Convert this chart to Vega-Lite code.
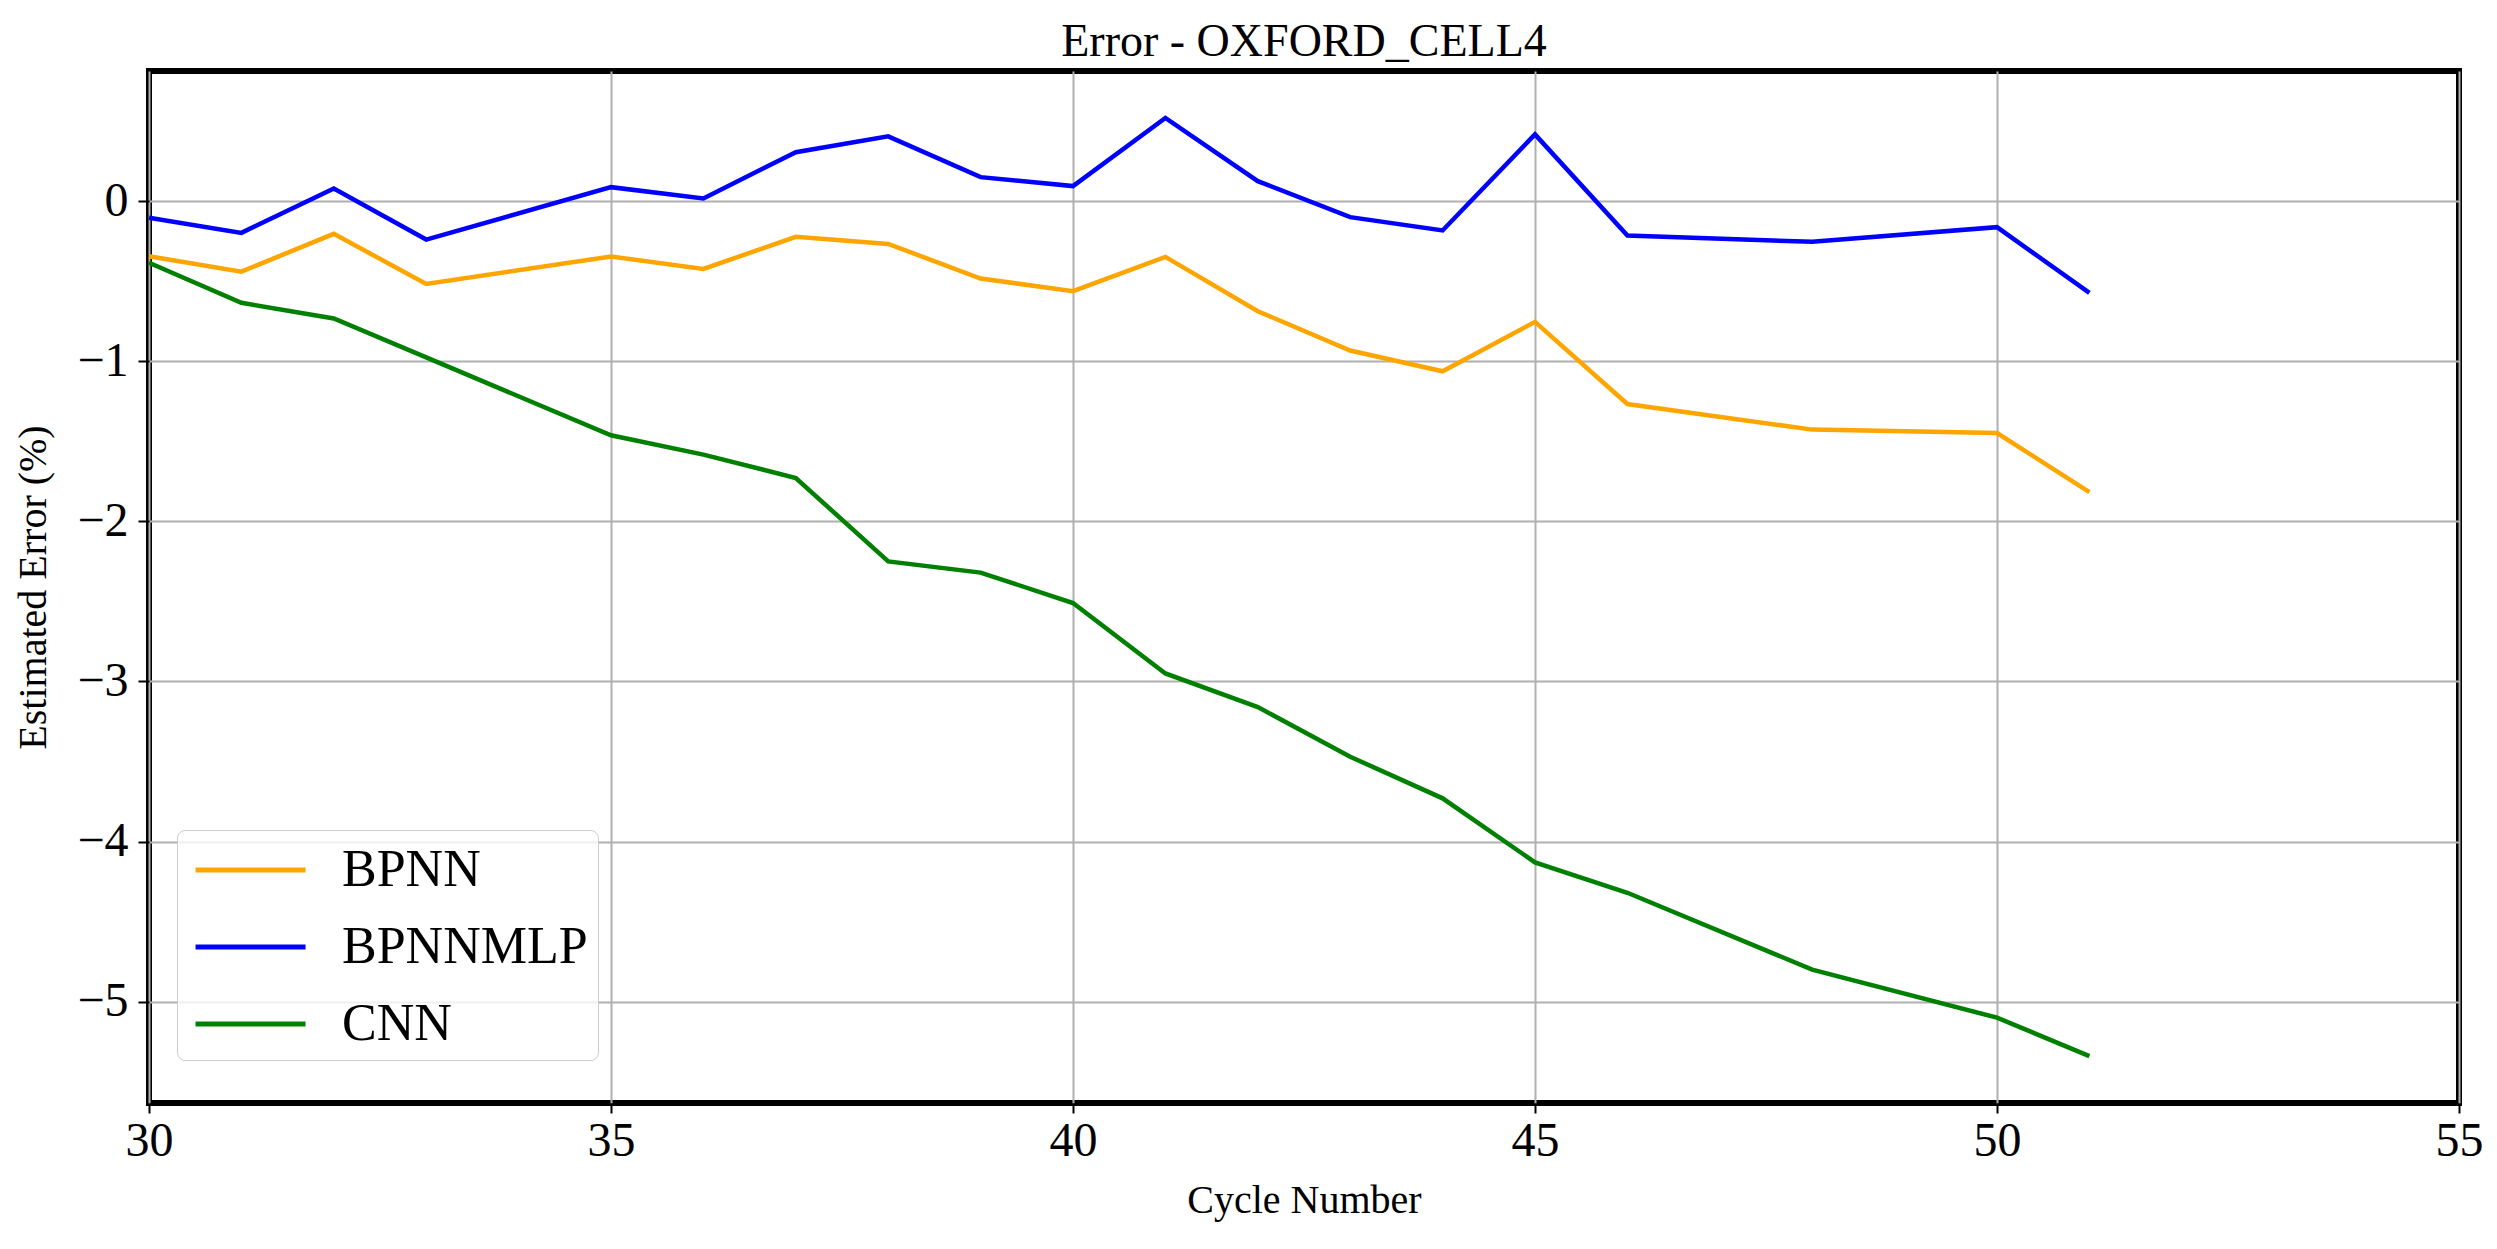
{
  "$schema": "https://vega.github.io/schema/vega-lite/v6.json",
  "width": 2310,
  "height": 1032,
  "autosize": {"type": "none"},
  "padding": {"left": 149, "top": 71, "right": 38, "bottom": 146},
  "background": "white",
  "title": {
    "text": "Error - OXFORD_CELL4",
    "font": "Liberation Serif",
    "fontSize": 46,
    "fontWeight": "normal",
    "color": "black",
    "anchor": "middle",
    "baseline": "alphabetic",
    "offset": -31
  },
  "config": {
    "view": {"stroke": "black", "strokeWidth": 6},
    "font": "Liberation Serif"
  },
  "data": {
    "values": [
      {"cycle": 30, "model": "BPNN", "error": -0.344},
      {"cycle": 31, "model": "BPNN", "error": -0.44},
      {"cycle": 32, "model": "BPNN", "error": -0.204},
      {"cycle": 33, "model": "BPNN", "error": -0.517},
      {"cycle": 35, "model": "BPNN", "error": -0.346},
      {"cycle": 36, "model": "BPNN", "error": -0.423},
      {"cycle": 37, "model": "BPNN", "error": -0.223},
      {"cycle": 38, "model": "BPNN", "error": -0.267},
      {"cycle": 39, "model": "BPNN", "error": -0.483},
      {"cycle": 40, "model": "BPNN", "error": -0.5625},
      {"cycle": 41, "model": "BPNN", "error": -0.348},
      {"cycle": 42, "model": "BPNN", "error": -0.6875},
      {"cycle": 43, "model": "BPNN", "error": -0.933},
      {"cycle": 44, "model": "BPNN", "error": -1.0625},
      {"cycle": 45, "model": "BPNN", "error": -0.754},
      {"cycle": 46, "model": "BPNN", "error": -1.267},
      {"cycle": 48, "model": "BPNN", "error": -1.427},
      {"cycle": 50, "model": "BPNN", "error": -1.448},
      {"cycle": 51, "model": "BPNN", "error": -1.817},
      {"cycle": 30, "model": "BPNNMLP", "error": -0.104},
      {"cycle": 31, "model": "BPNNMLP", "error": -0.198},
      {"cycle": 32, "model": "BPNNMLP", "error": 0.079},
      {"cycle": 33, "model": "BPNNMLP", "error": -0.24},
      {"cycle": 35, "model": "BPNNMLP", "error": 0.0875},
      {"cycle": 36, "model": "BPNNMLP", "error": 0.017},
      {"cycle": 37, "model": "BPNNMLP", "error": 0.306},
      {"cycle": 38, "model": "BPNNMLP", "error": 0.405},
      {"cycle": 39, "model": "BPNNMLP", "error": 0.15},
      {"cycle": 40, "model": "BPNNMLP", "error": 0.094},
      {"cycle": 41, "model": "BPNNMLP", "error": 0.52},
      {"cycle": 42, "model": "BPNNMLP", "error": 0.125},
      {"cycle": 43, "model": "BPNNMLP", "error": -0.1},
      {"cycle": 44, "model": "BPNNMLP", "error": -0.183},
      {"cycle": 45, "model": "BPNNMLP", "error": 0.417},
      {"cycle": 46, "model": "BPNNMLP", "error": -0.215},
      {"cycle": 48, "model": "BPNNMLP", "error": -0.254},
      {"cycle": 50, "model": "BPNNMLP", "error": -0.1625},
      {"cycle": 51, "model": "BPNNMLP", "error": -0.573},
      {"cycle": 30, "model": "CNN", "error": -0.385},
      {"cycle": 31, "model": "CNN", "error": -0.635},
      {"cycle": 32, "model": "CNN", "error": -0.733},
      {"cycle": 33, "model": "CNN", "error": -0.976},
      {"cycle": 35, "model": "CNN", "error": -1.4625},
      {"cycle": 36, "model": "CNN", "error": -1.583},
      {"cycle": 37, "model": "CNN", "error": -1.729},
      {"cycle": 38, "model": "CNN", "error": -2.25},
      {"cycle": 39, "model": "CNN", "error": -2.32},
      {"cycle": 40, "model": "CNN", "error": -2.51},
      {"cycle": 41, "model": "CNN", "error": -2.95},
      {"cycle": 42, "model": "CNN", "error": -3.16},
      {"cycle": 43, "model": "CNN", "error": -3.47},
      {"cycle": 44, "model": "CNN", "error": -3.73},
      {"cycle": 45, "model": "CNN", "error": -4.13},
      {"cycle": 46, "model": "CNN", "error": -4.32},
      {"cycle": 48, "model": "CNN", "error": -4.8},
      {"cycle": 50, "model": "CNN", "error": -5.1},
      {"cycle": 51, "model": "CNN", "error": -5.34}
    ]
  },
  "mark": {"type": "line", "strokeWidth": 4.5},
  "encoding": {
    "x": {
      "field": "cycle",
      "type": "quantitative",
      "scale": {"domain": [30, 55], "nice": false, "zero": false},
      "axis": {
        "title": "Cycle Number",
        "values": [30, 35, 40, 45, 50, 55],
        "domain": false,
        "grid": true,
        "gridColor": "#b0b0b0",
        "gridWidth": 2,
        "tickColor": "black",
        "tickWidth": 2,
        "tickSize": 10,
        "labelFont": "Liberation Serif",
        "labelFontSize": 48,
        "labelColor": "black",
        "labelPadding": 4,
        "labelFlush": false,
        "titleFont": "Liberation Serif",
        "titleFontSize": 40,
        "titleFontWeight": "normal",
        "titleColor": "black",
        "titlePadding": 15
      }
    },
    "y": {
      "field": "error",
      "type": "quantitative",
      "scale": {"domain": [-5.633, 0.813], "nice": false, "zero": false},
      "axis": {
        "title": "Estimated Error (%)",
        "values": [-5, -4, -3, -2, -1, 0],
        "format": "d",
        "domain": false,
        "grid": true,
        "gridColor": "#b0b0b0",
        "gridWidth": 2,
        "tickColor": "black",
        "tickWidth": 2,
        "tickSize": 11,
        "labelFont": "Liberation Serif",
        "labelFontSize": 48,
        "labelColor": "black",
        "labelPadding": 10,
        "titleFont": "Liberation Serif",
        "titleFontSize": 40,
        "titleFontWeight": "normal",
        "titleColor": "black",
        "titlePadding": 23
      }
    },
    "color": {
      "field": "model",
      "type": "nominal",
      "scale": {"domain": ["BPNN", "BPNNMLP", "CNN"], "range": ["#FFA500", "#0000FF", "#008000"]},
      "legend": {
        "title": null,
        "orient": "none",
        "legendX": 28,
        "legendY": 759,
        "symbolType": "M-0.78,0H3.22",
        "symbolSize": 3025,
        "symbolStrokeWidth": 5,
        "labelFont": "Liberation Serif",
        "labelFontSize": 52,
        "labelColor": "black",
        "labelOffset": 95,
        "labelLimit": 500,
        "rowPadding": 21,
        "padding": 10,
        "fillColor": "rgba(255,255,255,0.8)",
        "strokeColor": "#cccccc",
        "cornerRadius": 8
      }
    }
  }
}
